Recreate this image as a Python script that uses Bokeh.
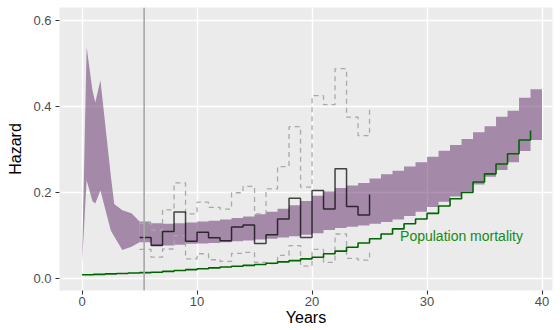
from bokeh.plotting import figure
from bokeh.models import Range1d, FixedTicker, Span
from bokeh.core.properties import value
from bokeh.embed import file_html
from bokeh.resources import INLINE

# ---------------- data ----------------
# Confidence band of the modelled hazard: early (smooth) part
band_early_t = [0.0, 0.4, 0.9, 1.15, 1.6, 2.5, 2.8, 3.5, 4.3, 5.0]
band_early_lo = [0.033, 0.228, 0.180, 0.174, 0.204, 0.111, 0.097, 0.066, 0.073, 0.084]
band_early_hi = [0.033, 0.538, 0.439, 0.409, 0.461, 0.239, 0.173, 0.158, 0.151, 0.132]

# Confidence band, yearly part (t = 5 ... 40)
band_years = list(range(5, 41))
band_lo = [0.084, 0.074, 0.076, 0.078, 0.080, 0.081, 0.082, 0.084, 0.086, 0.088,
           0.090, 0.092, 0.095, 0.098, 0.101, 0.105, 0.112, 0.117, 0.120, 0.123,
           0.127, 0.131, 0.137, 0.145, 0.155, 0.166, 0.178, 0.190, 0.203, 0.218,
           0.236, 0.252, 0.270, 0.296, 0.322, 0.365]
band_hi = [0.132, 0.128, 0.127, 0.128, 0.130, 0.132, 0.134, 0.137, 0.140, 0.144,
           0.149, 0.155, 0.162, 0.170, 0.180, 0.192, 0.202, 0.210, 0.216, 0.222,
           0.232, 0.242, 0.250, 0.260, 0.270, 0.283, 0.297, 0.310, 0.324, 0.340,
           0.354, 0.376, 0.390, 0.420, 0.440, 0.460]

# Observed hazard (step) with its confidence limits, t = 5 ... 25
obs_years = list(range(5, 26))
obs_hazard = [0.095, 0.077, 0.109, 0.154, 0.086, 0.107, 0.094, 0.0875, 0.119, 0.124,
              0.081, 0.101, 0.138, 0.186, 0.095, 0.204, 0.161, 0.255, 0.167, 0.147, 0.195]
obs_upper = [0.128, 0.112, 0.159, 0.222, 0.150, 0.177, 0.165, 0.161, 0.199, 0.214,
             0.150, 0.208, 0.260, 0.353, 0.212, 0.425, 0.404, 0.488, 0.375, 0.332, 0.398]
obs_lower = [0.067, 0.049, 0.068, 0.099, 0.045, 0.057, 0.043, 0.039, 0.058, 0.060,
             0.037, 0.034, 0.053, 0.076, 0.028, 0.067, 0.037, 0.103, 0.046, 0.042, 0.064]

# Population mortality, t = 0 ... 39
pop_years = list(range(0, 40))
pop_hazard = [0.008, 0.009, 0.010, 0.011, 0.012, 0.013, 0.014, 0.016, 0.018, 0.020,
              0.022, 0.024, 0.026, 0.028, 0.030, 0.032, 0.035, 0.038, 0.041, 0.045,
              0.049, 0.057, 0.063, 0.072, 0.082, 0.092, 0.103, 0.115, 0.127, 0.138,
              0.151, 0.168, 0.185, 0.200, 0.224, 0.243, 0.266, 0.290, 0.322, 0.344]

vline_year = 5.4
pop_label = "Population mortality"

x_ticks = [0, 10, 20, 30, 40]
x_tick_labels = ["0", "10", "20", "30", "40"]
y_ticks = [0.0, 0.2, 0.4, 0.6]
y_tick_labels = ["0.0", "0.2", "0.4", "0.6"]

# ---------------- figure ----------------
FONT = "Liberation Sans"
p = figure(width=560, height=330,
           x_range=Range1d(-1.96, 40.91), y_range=Range1d(-0.0286, 0.6304),
           output_backend="svg", toolbar_location=None,
           min_border_left=59, min_border_right=8, min_border_top=7, min_border_bottom=40)

p.background_fill_color = "#EBEBEB"
p.border_fill_color = "white"
p.outline_line_color = None

for g, t in ((p.xgrid, x_ticks), (p.ygrid, y_ticks)):
    g.ticker = FixedTicker(ticks=t)
    g.grid_line_color = "white"
    g.grid_line_width = 1.4
    g.minor_grid_line_color = None

for ax, t, lab in ((p.xaxis, x_ticks, x_tick_labels), (p.yaxis, y_ticks, y_tick_labels)):
    ax.ticker = FixedTicker(ticks=t)
    ax.major_label_overrides = {tv: tl for tv, tl in zip(t, lab)}
    ax.axis_line_color = None
    ax.major_tick_line_color = "#333333"
    ax.major_tick_line_width = 1.1
    ax.major_tick_out = 4
    ax.major_tick_in = 0
    ax.minor_tick_line_color = None
    ax.major_label_text_color = "#4D4D4D"
    ax.major_label_text_font = FONT
    ax.major_label_text_font_size = "13px"
    ax.axis_label_text_font = FONT
    ax.axis_label_text_font_size = "16px"
    ax.axis_label_text_font_style = "normal"
    ax.axis_label_text_color = "black"

p.xaxis.axis_label = "Years"
p.yaxis.axis_label = "Hazard"
p.xaxis.major_label_standoff = 2
p.xaxis.axis_label_standoff = 0
p.yaxis.major_label_standoff = 4
p.yaxis.axis_label_standoff = 6

# band
band_color = "#5E2868"
p.varea(x=band_early_t, y1=band_early_lo, y2=band_early_hi,
        fill_color=band_color, fill_alpha=0.5)
p.varea_step(x=band_years, y1=band_lo, y2=band_hi, step_mode="after",
             fill_color=band_color, fill_alpha=0.5)

# vertical reference line
p.add_layout(Span(location=vline_year, dimension="height",
                  line_color="#A8A8A8", line_width=1.6))

# observed hazard with limits
p.step(x=obs_years, y=obs_upper, mode="after", line_color="#A9A9A9",
       line_width=1.3, line_dash="5 4")
p.step(x=obs_years, y=obs_lower, mode="after", line_color="#A9A9A9",
       line_width=1.3, line_dash="5 4")
p.step(x=obs_years, y=obs_hazard, mode="after", line_color="black",
       line_alpha=0.72, line_width=1.5)

# population mortality
p.step(x=pop_years, y=pop_hazard, mode="after", line_color="#006400",
       line_width=1.6)
p.text(x=[33.0], y=[0.098], text=[pop_label], text_font=value(FONT),
       text_font_size="14px", text_color="#158A15",
       text_align="center", text_baseline="middle")

open("out.html", "w").write(file_html(p, INLINE))
